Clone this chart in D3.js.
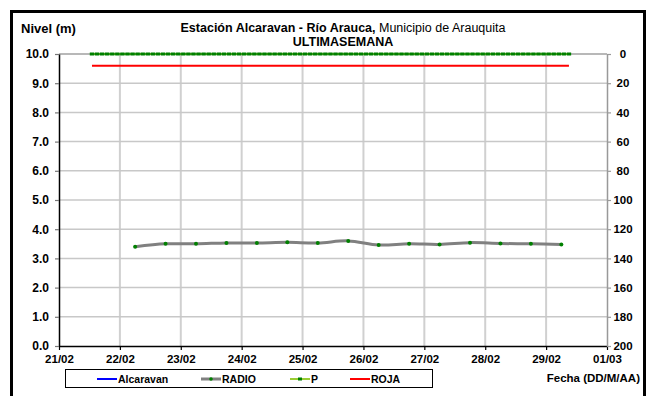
<!DOCTYPE html>
<html><head><meta charset="utf-8">
<script src="https://cdn.jsdelivr.net/npm/d3@7"></script>
<style>
body{margin:0;background:#fff;}
text{font-family:"Liberation Sans",Arial,sans-serif;}
</style></head>
<body><svg id="c" width="650" height="396"></svg>
<script>
// ---- data ----
const xTickLabels = ["21/02","22/02","23/02","24/02","25/02","26/02","27/02","28/02","29/02","01/03"];
const yLeftTicks = [0,1,2,3,4,5,6,7,8,9,10];
const yRightTicks = [0,20,40,60,80,100,120,140,160,180,200];
const radioTimes = ["2024-02-22T06:00","2024-02-22T18:00","2024-02-23T06:00","2024-02-23T18:00",
  "2024-02-24T06:00","2024-02-24T18:00","2024-02-25T06:00","2024-02-25T18:00","2024-02-26T06:00",
  "2024-02-26T18:00","2024-02-27T06:00","2024-02-27T18:00","2024-02-28T06:00","2024-02-28T18:00",
  "2024-02-29T06:00"];
const radioValues = [3.40,3.50,3.50,3.53,3.53,3.55,3.53,3.60,3.46,3.50,3.48,3.54,3.51,3.50,3.48];
const alcaravanTimes = [];
const alcaravanValues = [];
const rojaTimes = ["2024-02-21T13:00","2024-02-29T09:00"];
const rojaValues = [9.6,9.6];
const pStart = "2024-02-21T13:00";      // P readings every 2 hours
const pValues = [0,0,0,0,0,0,0,0,0,0,0,0,0,0,0,0,0,0,0,0,0,0,0,0,0,0,0,0,0,0,0,0,0,0,0,0,0,0,0,0,0,0,0,0,0,0,0,0,
  0,0,0,0,0,0,0,0,0,0,0,0,0,0,0,0,0,0,0,0,0,0,0,0,0,0,0,0,0,0,0,0,0,0,0,0,0,0,0,0,0,0,0,0,0,0,0];
const legendItems = ["Alcaravan","RADIO","P","ROJA"];

// ---- chart ----
const parse = d3.isoParse;
const svg = d3.select("#c");
const L=59, R=607, T=54, B=346;
const x = d3.scaleTime().domain([parse("2024-02-21T00:00"), parse("2024-03-01T00:00")]).range([L,R]);
const y = d3.scaleLinear().domain([0,10]).range([B,T]);
const y2 = d3.scaleLinear().domain([0,200]).range([T,B]);
const dayTicks = d3.timeDay.range(parse("2024-02-21T00:00"), parse("2024-03-01T00:01"));

// outer frame
svg.append("rect").attr("x",11.5).attr("y",11.5).attr("width",633).attr("height",400)
  .attr("fill","none").attr("stroke","#000").attr("stroke-width",3);

// gridlines
const g = svg.append("g");
g.selectAll("line.v").data(dayTicks.slice(1,-1)).join("line")
  .attr("x1",d=>x(d)).attr("x2",d=>x(d)).attr("y1",T).attr("y2",B)
  .attr("stroke","#d0d0d0").attr("stroke-width",2);
g.selectAll("line.h").data(yLeftTicks.slice(1,-1)).join("line")
  .attr("x1",L).attr("x2",R).attr("y1",d=>y(d)).attr("y2",d=>y(d))
  .attr("stroke","#c8c8c8").attr("stroke-width",1.5);
svg.append("line").attr("x1",L).attr("x2",R).attr("y1",T).attr("y2",T).attr("stroke","#a0a0a0").attr("stroke-width",1.5);

// axes
const ax = svg.append("g").attr("transform",`translate(0,${B})`)
  .call(d3.axisBottom(x).tickValues(dayTicks).tickFormat((d,i)=>xTickLabels[i]).tickSize(4).tickSizeOuter(0));
ax.select(".domain").attr("stroke","#000").attr("stroke-width",1.5);
ax.selectAll(".tick line").attr("stroke","#000").attr("stroke-width",1.2);
ax.selectAll("text").attr("font-size",11.5).attr("font-weight","bold").attr("fill","#000")
  .attr("y",9).attr("dy","0.71em");

const ayl = svg.append("g").attr("transform",`translate(${L},0)`)
  .call(d3.axisLeft(y).tickValues(yLeftTicks).tickFormat(d3.format(".1f")).tickSize(4).tickSizeOuter(0));
ayl.select(".domain").attr("stroke","#000").attr("stroke-width",1.5);
ayl.selectAll(".tick line").attr("stroke","#777").attr("stroke-width",1.2);
ayl.selectAll("text").attr("font-size",12).attr("font-weight","bold").attr("fill","#000").attr("x",-10);

const ayr = svg.append("g").attr("transform",`translate(${R},0)`)
  .call(d3.axisRight(y2).tickValues(yRightTicks).tickSize(4).tickSizeOuter(0));
ayr.select(".domain").attr("stroke","#999").attr("stroke-width",1.5);
ayr.selectAll(".tick line").attr("stroke","#999").attr("stroke-width",1.2);
ayr.selectAll("text").attr("font-size",11.5).attr("font-weight","bold").attr("fill","#000")
  .attr("text-anchor","middle").attr("x",16);

// series: ROJA
const rojaData = rojaTimes.map((t,i)=>({t:parse(t),v:rojaValues[i]}));
svg.append("path").datum(rojaData).attr("fill","none").attr("stroke","#ff0000").attr("stroke-width",2)
  .attr("d", d3.line().x(d=>x(d.t)).y(d=>y(d.v)));

// series: P (right axis)
const p0 = parse(pStart);
const pData = pValues.map((v,i)=>({t:d3.timeHour.offset(p0, i*2), v}));
svg.append("path").datum(pData).attr("fill","none").attr("stroke","#66aa22").attr("stroke-width",2)
  .attr("d", d3.line().x(d=>x(d.t)).y(d=>y2(d.v)));
svg.append("g").selectAll("rect").data(pData).join("rect")
  .attr("x",d=>x(d.t)-2.2).attr("y",d=>y2(d.v)-1.5).attr("width",4.4).attr("height",3).attr("fill","#008000");

// series: Alcaravan
const alcData = alcaravanTimes.map((t,i)=>({t:parse(t),v:alcaravanValues[i]}));
svg.append("path").datum(alcData).attr("fill","none").attr("stroke","#0000ff").attr("stroke-width",2)
  .attr("d", d3.line().x(d=>x(d.t)).y(d=>y(d.v)));

// series: RADIO
const radioData = radioTimes.map((t,i)=>({t:parse(t),v:radioValues[i]}));
svg.append("path").datum(radioData).attr("fill","none").attr("stroke","#808080").attr("stroke-width",3)
  .attr("d", d3.line().x(d=>x(d.t)).y(d=>y(d.v)).curve(d3.curveCatmullRom.alpha(0.5)));
svg.append("g").selectAll("circle").data(radioData).join("circle")
  .attr("cx",d=>x(d.t)).attr("cy",d=>y(d.v)).attr("r",2).attr("fill","#008000");

// titles
svg.append("text").attr("x",21).attr("y",33).attr("font-size",13).attr("font-weight","bold").text("Nivel (m)");
const t1 = svg.append("text").attr("x",343).attr("y",32).attr("text-anchor","middle").attr("font-size",12.5);
t1.append("tspan").attr("font-weight","bold").text("Estación Alcaravan - Río Arauca,");
t1.append("tspan").text(" Municipio de Arauquita");
svg.append("text").attr("x",343).attr("y",46).attr("text-anchor","middle").attr("font-size",12.5)
  .attr("font-weight","bold").text("ULTIMASEMANA");
svg.append("text").attr("x",640).attr("y",382).attr("text-anchor","end").attr("font-size",11.5)
  .attr("font-weight","bold").text("Fecha (DD/M/AA)");

// legend
svg.append("rect").attr("x",65.5).attr("y",369.5).attr("width",367).attr("height",18)
  .attr("fill","#fff").attr("stroke","#000").attr("stroke-width",1);
const lx = [97,201,290,350];
const lcol = ["#0000ff","#808080","#99cc33","#ff0000"];
const ly = 379;
legendItems.forEach((name,i)=>{
  svg.append("line").attr("x1",lx[i]).attr("x2",lx[i]+20).attr("y1",ly).attr("y2",ly)
    .attr("stroke",lcol[i]).attr("stroke-width",i===1?3:2);
  if(i===1) svg.append("circle").attr("cx",lx[i]+10).attr("cy",ly).attr("r",1.8).attr("fill","#008000");
  if(i===2) svg.append("rect").attr("x",lx[i]+8).attr("y",ly-1.5).attr("width",4).attr("height",3).attr("fill","#008000");
  svg.append("text").attr("x",lx[i]+21).attr("y",ly+3.5).attr("font-size",10.5).attr("font-weight","bold").text(name);
});
</script></body></html>
